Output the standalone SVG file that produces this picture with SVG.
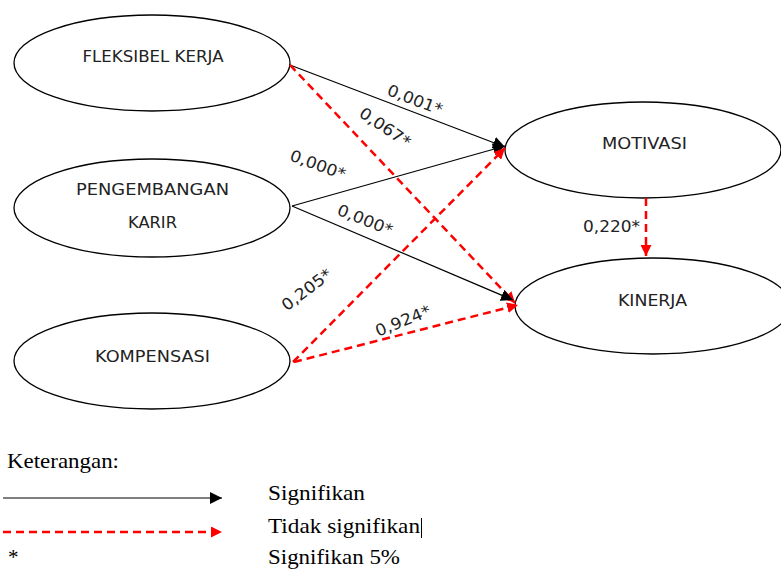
<svg xmlns="http://www.w3.org/2000/svg" width="781" height="570" viewBox="0 0 781 570">
<style>
.node{fill:#fff;stroke:#000;stroke-width:1.3}
.lbl{font-family:"DejaVu Sans","Noto Sans",sans-serif;font-size:15.5px;fill:#222;text-anchor:middle}
.val{font-family:"DejaVu Sans","Noto Sans",sans-serif;font-size:16px;fill:#222;text-anchor:middle}
.sig{fill:none;stroke:#000;stroke-width:1.2}
.ns{fill:none;stroke:#ff0000;stroke-width:2.5;stroke-dasharray:8 5}
.leg{font-family:"Liberation Serif",serif;font-size:21px;fill:#000}
</style>
<defs>
<marker id="ab" viewBox="0 0 10 10" refX="10" refY="5" markerWidth="12" markerHeight="12" markerUnits="userSpaceOnUse" orient="auto"><path d="M0,0 L10,5 L0,10 z" fill="#000"/></marker>
<marker id="ar" viewBox="0 0 10 10" refX="10" refY="5" markerWidth="11" markerHeight="11" markerUnits="userSpaceOnUse" orient="auto"><path d="M0,0 L10,5 L0,10 z" fill="#ff0000"/></marker>
</defs>
<g id="n-fleksibel"><ellipse class="node" cx="152" cy="63" rx="138" ry="48"/><text class="lbl" x="153" y="62" textLength="141" lengthAdjust="spacingAndGlyphs">FLEKSIBEL KERJA</text></g>
<g id="n-pengembangan"><ellipse class="node" cx="152" cy="208" rx="138" ry="49"/><text class="lbl" x="152.5" y="195" textLength="153" lengthAdjust="spacingAndGlyphs">PENGEMBANGAN</text><text class="lbl" x="152.5" y="228" textLength="49" lengthAdjust="spacingAndGlyphs">KARIR</text></g>
<g id="n-kompensasi"><ellipse class="node" cx="152" cy="361" rx="138" ry="48"/><text class="lbl" x="152.5" y="362" textLength="115" lengthAdjust="spacingAndGlyphs">KOMPENSASI</text></g>
<g id="n-motivasi"><ellipse class="node" cx="643" cy="150" rx="138" ry="48"/><text class="lbl" x="644.5" y="149" textLength="85" lengthAdjust="spacingAndGlyphs">MOTIVASI</text></g>
<g id="n-kinerja"><ellipse class="node" cx="653" cy="306" rx="138" ry="48"/><text class="lbl" x="652.5" y="306" textLength="69" lengthAdjust="spacingAndGlyphs">KINERJA</text></g>
<g id="connectors">
<line class="sig" x1="290" y1="65" x2="505" y2="147" marker-end="url(#ab)"/>
<line class="ns" x1="290" y1="65" x2="515" y2="303" marker-end="url(#ar)"/>
<line class="sig" x1="292" y1="206" x2="505" y2="146" marker-end="url(#ab)"/>
<line class="sig" x1="292" y1="206" x2="513" y2="300" marker-end="url(#ab)"/>
<line class="ns" x1="293" y1="362" x2="505" y2="148" marker-end="url(#ar)"/>
<line class="ns" x1="294" y1="362" x2="518" y2="305" marker-end="url(#ar)"/>
<line class="ns" x1="646" y1="198" x2="646" y2="256" marker-end="url(#ar)"/>
<text class="val" transform="translate(413,105) rotate(21)" textLength="58" lengthAdjust="spacingAndGlyphs">0,001*</text>
<text class="val" transform="translate(382,132) rotate(34)" textLength="58" lengthAdjust="spacingAndGlyphs">0,067*</text>
<text class="val" transform="translate(316,170) rotate(20)" textLength="58" lengthAdjust="spacingAndGlyphs">0,000*</text>
<text class="val" transform="translate(363,225) rotate(22)" textLength="58" lengthAdjust="spacingAndGlyphs">0,000*</text>
<text class="val" transform="translate(310,294) rotate(-37)" textLength="58" lengthAdjust="spacingAndGlyphs">0,205*</text>
<text class="val" transform="translate(405,326) rotate(-22)" textLength="58" lengthAdjust="spacingAndGlyphs">0,924*</text>
<text class="val" x="611.5" y="232" textLength="57" lengthAdjust="spacingAndGlyphs">0,220*</text>
</g>
<g id="legend">
<text class="leg" x="7" y="468" textLength="112" lengthAdjust="spacingAndGlyphs">Keterangan:</text>
<line class="sig" x1="3" y1="498" x2="222" y2="498" marker-end="url(#ab)"/>
<line class="ns" x1="3" y1="532" x2="222" y2="532" marker-end="url(#ar)"/>
<text class="leg" x="8" y="564">*</text>
<text class="leg" x="268" y="500" textLength="97" lengthAdjust="spacingAndGlyphs">Signifikan</text>
<text class="leg" x="268" y="533" textLength="152" lengthAdjust="spacingAndGlyphs">Tidak signifikan</text>
<line x1="421.5" y1="518" x2="421.5" y2="538" stroke="#000" stroke-width="1"/>
<text class="leg" x="268" y="564" textLength="132" lengthAdjust="spacingAndGlyphs">Signifikan 5%</text>
</g>
</svg>
